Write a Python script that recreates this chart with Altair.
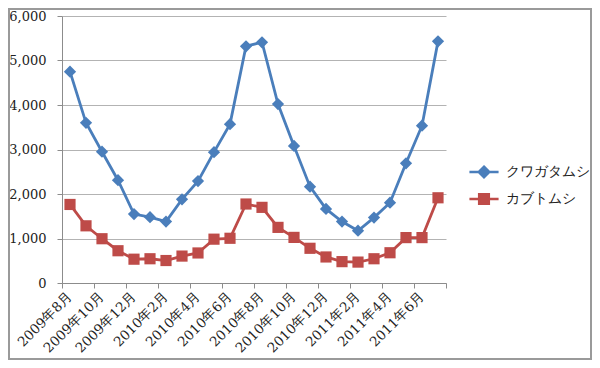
import json
import altair as alt
import pandas as pd

months = ["2009年8月", "2009年9月", "2009年10月", "2009年11月", "2009年12月", "2010年1月",
          "2010年2月", "2010年3月", "2010年4月", "2010年5月", "2010年6月", "2010年7月",
          "2010年8月", "2010年9月", "2010年10月", "2010年11月", "2010年12月", "2011年1月",
          "2011年2月", "2011年3月", "2011年4月", "2011年5月", "2011年6月", "2011年7月"]
kuwagata = [4750, 3600, 2950, 2310, 1550, 1480, 1380, 1880, 2290, 2940, 3570, 5320,
            5410, 4020, 3080, 2165, 1665, 1380, 1175, 1470, 1805, 2690, 3535, 5430]
kabuto = [1765, 1285, 995, 725, 535, 545, 505, 605, 675, 985, 1005, 1775,
          1700, 1250, 1025, 780, 585, 480, 470, 545, 680, 1020, 1020, 1915]
series_names = ["クワガタムシ", "カブトムシ"]
tick_labels = months[::2]

rows = []
for i, m in enumerate(months):
    rows.append({"idx": i + 0.5, "月": m, "系列": series_names[0], "値": kuwagata[i]})
    rows.append({"idx": i + 0.5, "月": m, "系列": series_names[1], "値": kabuto[i]})
df = pd.DataFrame(rows)

BLUE = "#4A7EBB"
RED = "#BE4B48"
SERIF = "DejaVu Serif"

W, H = 384, 267
PAD_L, PAD_T, PAD_R, PAD_B = 54, 8, 146, 77

xscale = alt.Scale(domain=[0, 24], nice=False, zero=False)
yscale = alt.Scale(domain=[0, 6000], nice=False)
color_scale = alt.Scale(domain=series_names, range=[BLUE, RED])

yenc = alt.Y("値:Q", scale=yscale, title=None,
             axis=alt.Axis(values=[0, 1000, 2000, 3000, 4000, 5000, 6000], format=",.0f",
                           grid=True, gridColor="#B3B3B3", gridWidth=1,
                           domainColor="#8C8C8C", tickColor="#8C8C8C", tickSize=5,
                           labelFont=SERIF, labelFontSize=13, labelColor="#222222",
                           labelPadding=11))
yplain = alt.Y("値:Q", scale=yscale)

x_tick_axis = alt.Axis(values=list(range(0, 25, 2)), labels=False, grid=False,
                       domainColor="#8C8C8C", tickColor="#8C8C8C", tickSize=5,
                       orient="bottom", title=None)
label_expr = json.dumps(tick_labels, ensure_ascii=False) + "[floor(datum.value / 2)]"
x_label_axis = alt.Axis(values=[i + 0.5 for i in range(0, 24, 2)], labelExpr=label_expr,
                        ticks=False, domain=False, grid=False, orient="bottom",
                        labelAngle=315, labelAlign="right", labelBaseline="middle",
                        labelPadding=11, labelFont=SERIF, labelFontSize=13.5,
                        labelColor="#222222", labelOverlap=False, title=None)

legend_shapes = [
    "M-1,0H1M0,-0.36L0.36,0L0,0.36L-0.36,0Z",
    "M-1,0H1M-0.33,-0.33H0.33V0.33H-0.33Z",
]
legend_def = alt.Legend(
    title=None, orient="none", legendX=W + 22, legendY=140,
    symbolSize=850, symbolStrokeWidth=2.5, symbolOpacity=1,
    labelFont=SERIF, labelFontSize=14, labelColor="#222222",
    labelOffset=6, rowPadding=-4)

lines = alt.Chart(df).mark_line(strokeWidth=2.8).encode(
    x=alt.X("idx:Q", scale=xscale, axis=x_tick_axis),
    y=yenc,
    color=alt.Color("系列:N", scale=color_scale, legend=legend_def),
    detail="系列:N",
)

pts_blue = alt.Chart(df).transform_filter(alt.datum["系列"] == series_names[0]).mark_point(
    shape="diamond", filled=True, size=150, color=BLUE, opacity=1).encode(
    x=alt.X("idx:Q", scale=xscale, axis=x_label_axis),
    y=yplain,
)
pts_red = alt.Chart(df).transform_filter(alt.datum["系列"] == series_names[1]).mark_point(
    shape="square", filled=True, size=125, color=RED, opacity=1).encode(
    x=alt.X("idx:Q", scale=xscale, axis=None),
    y=yplain,
)

legend_layer = alt.Chart(df).mark_point(filled=True, opacity=0).encode(
    x=alt.X("idx:Q", scale=xscale, axis=None),
    y=yplain,
    color=alt.Color("系列:N", scale=color_scale, legend=legend_def),
    shape=alt.Shape("系列:N", scale=alt.Scale(domain=series_names, range=legend_shapes),
                    legend=legend_def),
)

frame = alt.Chart(alt.Data(values=[{"f": 1}])).mark_rect(
    fill=None, stroke="#9A9A9A", strokeWidth=2).encode(
    x=alt.value(-PAD_L + 1), x2=alt.value(W + PAD_R - 1),
    y=alt.value(-PAD_T + 1), y2=alt.value(H + PAD_B - 1),
)

chart = alt.layer(lines, pts_blue, pts_red, legend_layer, frame).resolve_axis(
    x="independent"
).properties(
    width=W, height=H,
    autosize=alt.AutoSizeParams(type="none"),
    padding={"left": PAD_L, "top": PAD_T, "right": PAD_R, "bottom": PAD_B},
    background="white",
).configure_view(stroke=None)

chart.save("out.html", embed_options={"renderer": "svg", "actions": False})
